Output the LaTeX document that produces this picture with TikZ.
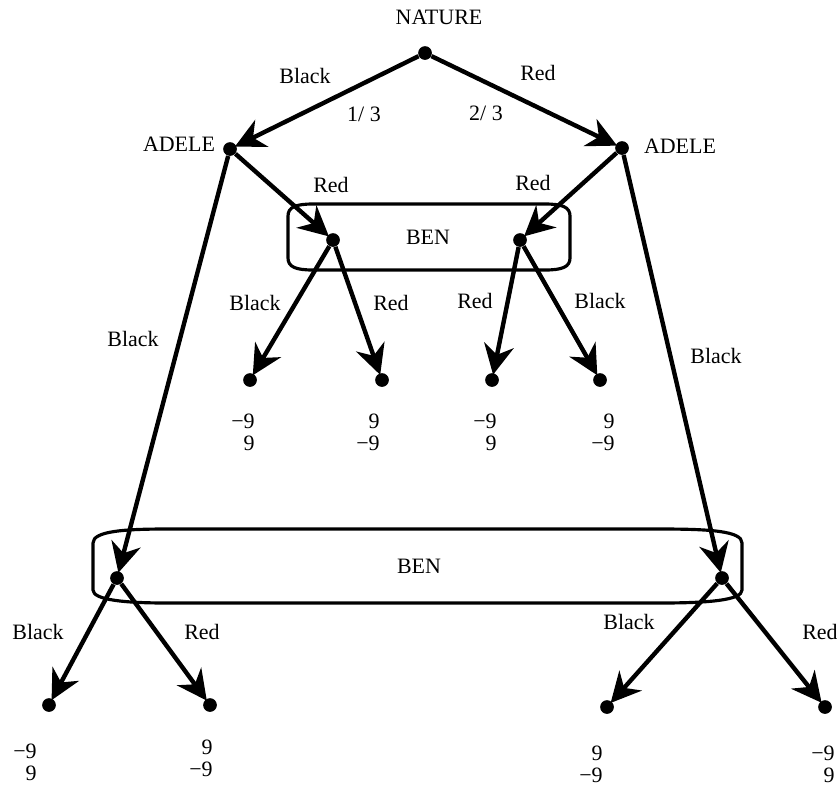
\documentclass[tikz,border=0pt]{standalone}
\usepackage{fontspec}
\setmainfont{Liberation Serif}
\usetikzlibrary{arrows.meta}
\begin{document}
\begin{tikzpicture}[x=0.02cm,y=-0.02cm,
  dot/.style={circle,fill=black,inner sep=0pt,minimum size=7.8pt},
  move/.style={line width=2.5pt,shorten >=-1pt,-{Stealth[length=17pt,width=17pt,inset=5.5pt]}},
  lbl/.style={font=\fontsize{12.5}{15}\selectfont,inner sep=0pt},
  pay/.style={font=\fontsize{12.5}{12.5}\selectfont,inner sep=0pt,align=right,anchor=east},
  infoset/.style={line width=1.8pt}]
\useasboundingbox (0,0) rectangle (837,785);

% information sets
\draw[infoset] (288,216) .. controls (288,207) and (296,204) .. (313,204) -- (545,204)
  .. controls (562,204) and (570,207) .. (570,216) -- (570,258)
  .. controls (570,267) and (562,270) .. (545,270) -- (313,270)
  .. controls (296,270) and (288,267) .. (288,258) -- cycle;
\draw[infoset] (93,543) .. controls (93,531) and (125,529) .. (167,529) -- (660,529)
  .. controls (710,529) and (742,531) .. (742,543) -- (742,590)
  .. controls (742,600) and (710,603) .. (660,603) -- (167,603)
  .. controls (125,603) and (93,600) .. (93,590) -- cycle;

% nodes
\node[dot] (root) at (425,53) {};
\node[dot] (adL) at (230,149) {};
\node[dot] (adR) at (622,148) {};
\node[dot] (b1) at (333,240) {};
\node[dot] (b2) at (520,240) {};
\node[dot] (l1) at (250,380) {};
\node[dot] (l2) at (382,380) {};
\node[dot] (l3) at (492,380) {};
\node[dot] (l4) at (600,380) {};
\node[dot] (b3) at (117,578) {};
\node[dot] (b4) at (722,578) {};
\node[dot] (l5) at (49,705) {};
\node[dot] (l6) at (210,705) {};
\node[dot] (l7) at (607,707) {};
\node[dot] (l8) at (825,707) {};

% moves
\draw[move] (root) -- (adL);
\draw[move] (root) -- (adR);
\draw[move] (adL) -- (b1);
\draw[move] (adR) -- (b2);
\draw[move] (b1) -- (l1);
\draw[move] (b1) -- (l2);
\draw[move] (b2) -- (l3);
\draw[move] (b2) -- (l4);
\draw[move] (adL) -- (b3);
\draw[move] (adR) -- (b4);
\draw[move] (b3) -- (l5);
\draw[move] (b3) -- (l6);
\draw[move] (b4) -- (l7);
\draw[move] (b4) -- (l8);

% labels
\node[lbl] (tN) at (439,17) {NATURE};
\node[lbl] (tA1) at (179,144) {ADELE};
\node[lbl] (tA2) at (680,146) {ADELE};
\node[lbl] (tB1) at (428,237) {BEN};
\node[lbl] (tB2) at (419,566) {BEN};
\node[lbl] (e1) at (305,76) {Black};
\node[lbl] (e2) at (538,73) {Red};
\node[lbl] (p1) at (364,114) {1/ 3};
\node[lbl] (p2) at (486,113) {2/ 3};
\node[lbl] (e3) at (331,185) {Red};
\node[lbl] (e4) at (533,183) {Red};
\node[lbl] (e5) at (255,303) {Black};
\node[lbl] (e6) at (391,303) {Red};
\node[lbl] (e7) at (475,301) {Red};
\node[lbl] (e8) at (600,301) {Black};
\node[lbl] (e9) at (133,339) {Black};
\node[lbl] (e10) at (716,356) {Black};
\node[lbl] (e11) at (38,632) {Black};
\node[lbl] (e12) at (202,632) {Red};
\node[lbl] (e13) at (629,622) {Black};
\node[lbl] (e14) at (820,632) {Red};

% payoffs
\node[pay] (y1) at (255,432) {−9\\9};
\node[pay] (y2) at (380,432) {9\\−9};
\node[pay] (y3) at (497,432) {−9\\9};
\node[pay] (y4) at (615,432) {9\\−9};
\node[pay] (y5) at (37,762) {−9\\9};
\node[pay] (y6) at (213,758) {9\\−9};
\node[pay] (y7) at (603,764) {9\\−9};
\node[pay] (y8) at (835,764) {−9\\9};
\end{tikzpicture}
\end{document}
